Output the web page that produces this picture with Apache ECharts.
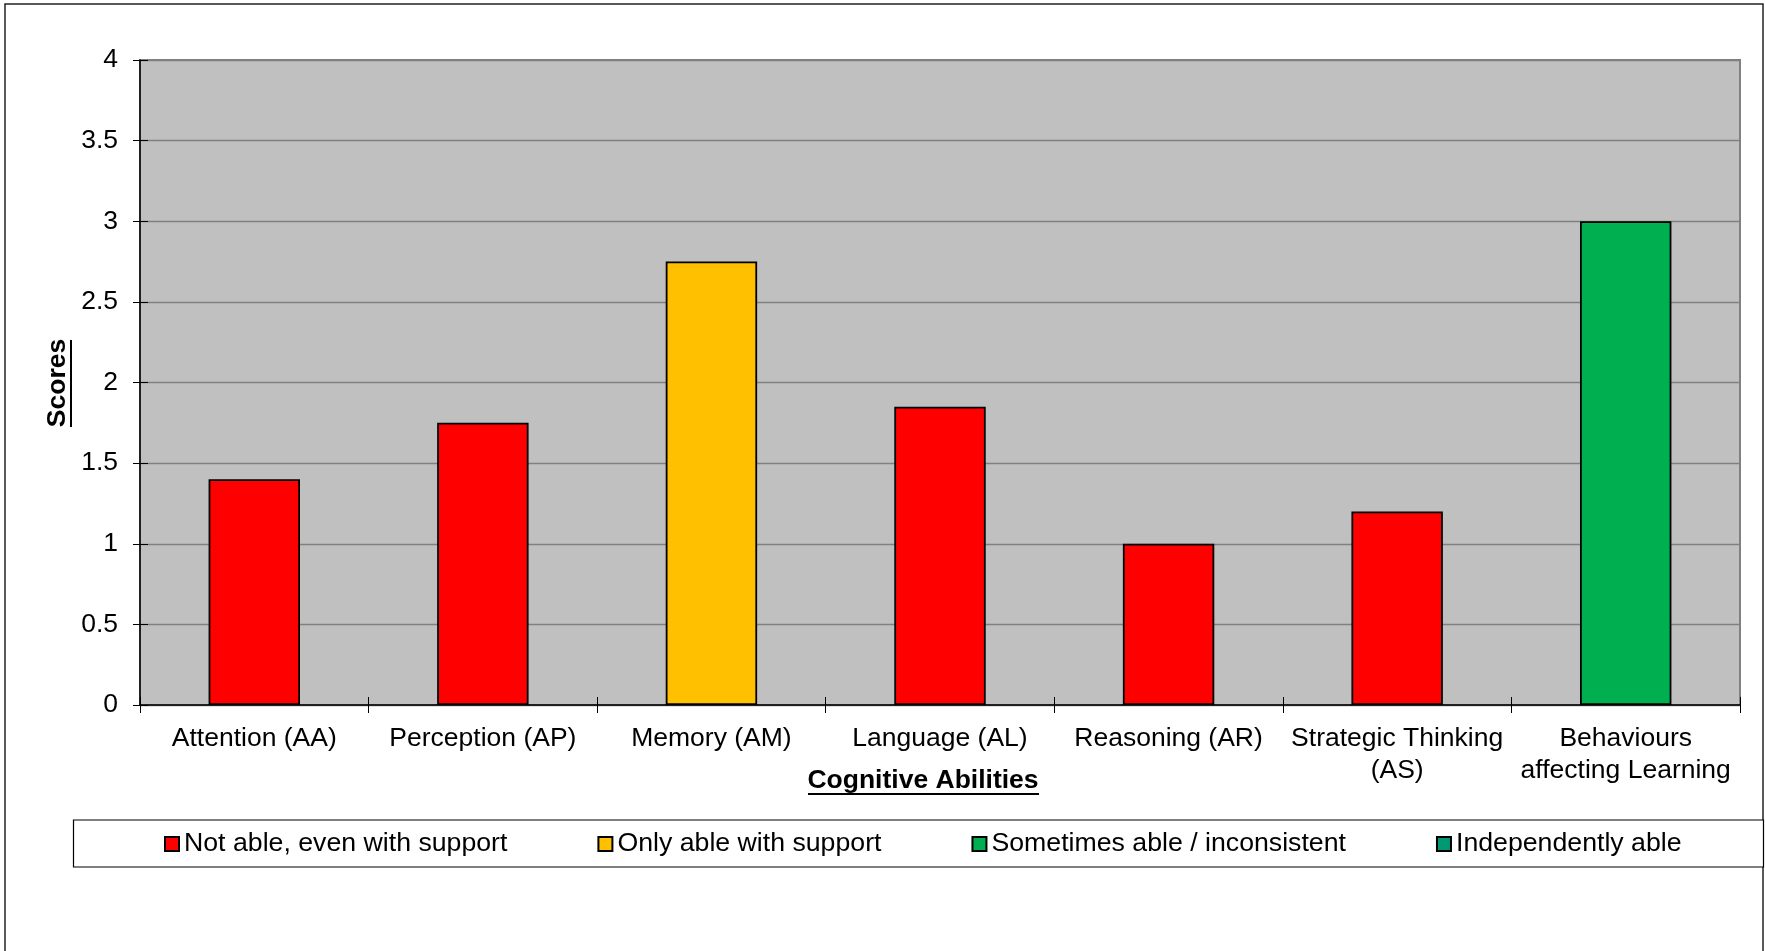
<!DOCTYPE html>
<html>
<head>
<meta charset="utf-8">
<script src="https://cdn.jsdelivr.net/npm/echarts@6/dist/echarts.min.js"></script>
<style>
html,body{margin:0;padding:0;background:#fff;}
#chart{width:1765px;height:951px;}
</style>
</head>
<body>
<div id="chart"></div>
<script>
const categories = ['Attention (AA)', 'Perception (AP)', 'Memory (AM)', 'Language (AL)', 'Reasoning (AR)', 'Strategic Thinking\n(AS)', 'Behaviours\naffecting Learning'];
const notAble = [1.4, 1.75, null, 1.85, 1.0, 1.2, null];
const onlyWithSupport = [null, null, 2.75, null, null, null, null];
const sometimesAble = [null, null, null, null, null, null, 3.0];
const independentlyAble = [null, null, null, null, null, null, null];
const seriesNames = ['Not able, even with support', 'Only able with support', 'Sometimes able / inconsistent', 'Independently able'];
const seriesColors = ['#FF0000', '#FFC000', '#00B050', '#009973'];
const xTitle = 'Cognitive Abilities';
const yTitle = 'Scores';

const FONT = '"Liberation Sans", Arial, sans-serif';
const chart = echarts.init(document.getElementById('chart'), null, {renderer: 'canvas'});

const seriesData = [notAble, onlyWithSupport, sometimesAble, independentlyAble];
const series = seriesData.map((d, i) => ({
  name: seriesNames[i],
  type: 'bar',
  stack: 'all',
  barWidth: '40%',
  data: d,
  xAxisIndex: 0,
  yAxisIndex: 0,
  itemStyle: {color: seriesColors[i], borderColor: '#000', borderWidth: 1.8},
  emphasis: {disabled: true}
}));

chart.setOption({
  animation: false,
  backgroundColor: '#fff',
  grid: {left: 140, right: 25, top: 60, bottom: 246, show: true, backgroundColor: '#C0C0C0', borderColor: '#808080', borderWidth: 2},
  legend: {
    left: 164, top: 830,
    padding: 0,
    itemWidth: 14, itemHeight: 14,
    itemGap: 90,
    icon: 'rect',
    textStyle: {fontFamily: FONT, fontSize: 26.7, color: '#000', lineHeight: 28},
    data: seriesNames
  },
  xAxis: [{
    type: 'category', data: categories, position: 'bottom',
    axisLine: {show: true, lineStyle: {color: '#000', width: 1.5}},
    axisTick: {show: true, length: 8, lineStyle: {color: '#000', width: 1}},
    axisLabel: {interval: 0, margin: 18, fontFamily: FONT, fontSize: 26.5, color: '#000', lineHeight: 32},
    splitLine: {show: false}
  }, {
    type: 'category', data: categories, position: 'bottom',
    axisLine: {show: false},
    axisTick: {show: true, inside: true, length: 8, lineStyle: {color: '#000', width: 1}},
    axisLabel: {show: false},
    splitLine: {show: false}
  }],
  yAxis: [{
    type: 'value', min: 0, max: 4, interval: 0.5, position: 'left',
    axisLine: {show: true, lineStyle: {color: '#000', width: 1.5}},
    axisTick: {show: true, length: 7, lineStyle: {color: '#000', width: 1}},
    axisLabel: {margin: 22, fontFamily: FONT, fontSize: 26.5, color: '#000'},
    splitLine: {show: true, lineStyle: {color: '#808080', width: 1.3}}
  }, {
    type: 'value', min: 0, max: 4, interval: 0.5, position: 'left',
    axisLine: {show: false},
    axisTick: {show: true, inside: true, length: 8, lineStyle: {color: '#000', width: 1}},
    axisLabel: {show: false},
    splitLine: {show: false}
  }],
  graphic: [
    {type: 'rect', z: -10, shape: {x: 5, y: 4, width: 1758, height: 960}, style: {fill: 'none', stroke: '#222', lineWidth: 1.5}},
    {type: 'rect', z: -5, shape: {x: 73.5, y: 820, width: 1690, height: 47}, style: {fill: '#fff', stroke: '#000', lineWidth: 1.2}},
    {type: 'text', x: 923, y: 781, style: {text: xTitle, fontFamily: FONT, fontSize: 26.5, fontWeight: 'bold', fill: '#000', align: 'center', verticalAlign: 'middle'}},
    {type: 'line', shape: {x1: 808, y1: 794, x2: 1039, y2: 794}, style: {stroke: '#000', lineWidth: 2}},
    {type: 'text', x: 58, y: 383, rotation: Math.PI / 2, style: {text: yTitle, fontFamily: FONT, fontSize: 26.5, fontWeight: 'bold', fill: '#000', align: 'center', verticalAlign: 'middle'}},
    {type: 'line', shape: {x1: 71, y1: 340, x2: 71, y2: 427}, style: {stroke: '#000', lineWidth: 2}}
  ],
  series: series
});
</script>
</body>
</html>
